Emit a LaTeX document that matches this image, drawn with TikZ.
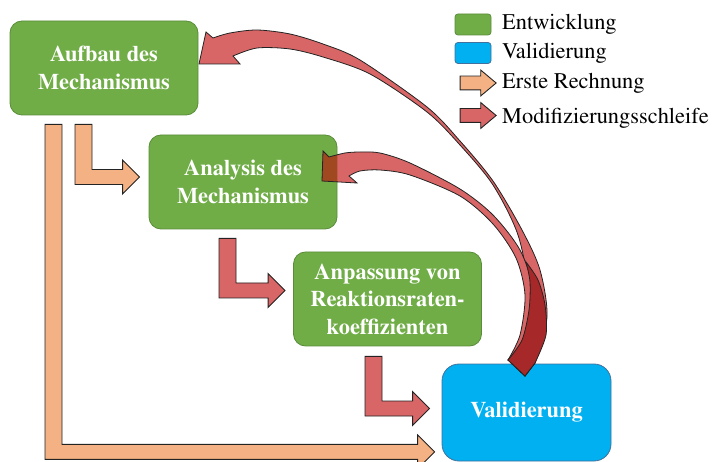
\documentclass[tikz,border=0pt]{standalone}
\usepackage[T1]{fontenc}
\usepackage{times}
\usetikzlibrary{calc,shapes.arrows}

\definecolor{gruen}{RGB}{112,173,71}
\definecolor{gruenrand}{RGB}{90,140,58}
\definecolor{blau}{RGB}{0,176,240}
\definecolor{blaurand}{RGB}{65,113,156}
\definecolor{orangepf}{RGB}{244,177,131}
\definecolor{rotpf}{RGB}{217,102,102}
\definecolor{dunkelrot}{RGB}{166,40,40}
\definecolor{braun}{RGB}{160,72,32}
\definecolor{umriss}{RGB}{35,35,35}

\tikzset{
  kasten/.style={rounded corners=12pt, fill=gruen, draw=gruenrand, line width=0.8pt,
    text=white, align=center, inner sep=0pt,
    font=\bfseries\fontsize{22.4}{27.5}\selectfont,
    minimum width=188pt, minimum height=94pt},
  legbox/.style={rounded corners=3pt, line width=0.8pt, minimum width=36pt,
    minimum height=21pt, inner sep=0pt},
  legpfeil/.style={single arrow, draw=umriss, line width=0.9pt, minimum height=36pt,
    inner xsep=0pt, inner ysep=6.5pt, text height=0pt, text depth=0pt,
    single arrow head extend=6pt, single arrow tip angle=80},
  legtext/.style={anchor=base west, inner sep=0pt, font=\fontsize{22.4}{27.5}\selectfont},
  kurvpfeil/.style={fill=rotpf, draw=umriss, line width=0.8pt}
}

% L-shaped block arrow: #1 top of the shaft, #2 tip
\newcommand{\winkelpfeil}[3]{%
  \draw[line width=0.9pt, draw=umriss, #3] let \p1=(#1), \p2=(#2) in
    (\x1-8.5pt,\y1) -- (\x1+8.5pt,\y1) -- (\x1+8.5pt,\y2+7.5pt) -- (\x2-17pt,\y2+7.5pt)
    -- (\x2-17pt,\y2+17pt) -- (\x2,\y2) -- (\x2-17pt,\y2-17pt) -- (\x2-17pt,\y2-7.5pt)
    -- (\x1-8.5pt,\y2-7.5pt) -- cycle;}

\newcommand{\kurvegross}{plot[smooth] coordinates {(508,360) (522,337) (528,290) (518,235)
    (493,185) (460,145) (427,112) (370,74) (323,57) (290,49) (257,48) (233,56)}
  -- (240,64) -- (199,64) -- (206,32) -- (213,38)
  -- plot[smooth] coordinates {(213,38) (230,33) (257,30) (290,34) (323,44) (360,60)
    (427,107) (460,141) (493,181) (522,230) (540,270) (547,317) (535,363)}
  -- (525,376) -- cycle}
\newcommand{\kurvekl}{plot[smooth] coordinates {(508,360) (520,335) (525,295) (516,258)
    (493,224) (460,196) (410,175) (380,170) (360,171) (349,176)}
  -- (357,183) -- (322,181) -- (323,151) -- (329,157)
  -- plot[smooth] coordinates {(329,157) (345,153) (360,152) (380,153) (410,163)
    (460,189) (493,215) (520,250) (534,290) (539,330) (535,363)}
  -- (525,376) -- cycle}

\begin{document}
\begin{tikzpicture}
    \pgfsetxvec{\pgfpoint{1pt}{0}}
    \pgfsetyvec{\pgfpoint{0}{-1pt}}
    \useasboundingbox (0,0) rectangle (715,462);

    \node[kasten] (aufbau) at (104,68) {Aufbau des\\Mechanismus};
    \node[kasten] (analysis) at (243,182) {Analysis des\\Mechanismus};
    \node[kasten] (anpassung) at (387.5,299) {Anpassung von\\Reaktionsraten-\\koeffizienten};
    \node[kasten, fill=blau, draw=blaurand, rounded corners=17pt,
      minimum width=169pt, minimum height=97pt] (validierung) at (526.5,412.5) {Validierung};

    \coordinate (o1a) at ($(aufbau.south)+(-20.5,9)$);
    \coordinate (o1b) at ($(analysis.west)+(-9,-5)$);
    \coordinate (o2a) at ($(aufbau.south)+(-50.5,9)$);
    \coordinate (o2b) at ($(validierung.south west)+(-7,-9.5)$);
    \coordinate (r1a) at ($(analysis.south)+(-15.5,9)$);
    \coordinate (r1b) at ($(anpassung.west)+(-8,-8.5)$);
    \coordinate (r2a) at ($(anpassung.south)+(-14,10)$);
    \coordinate (r2b) at ($(validierung.west)+(-12,-4)$);
    \foreach \s/\e/\f in {o1a/o1b/orangepf, o2a/o2b/orangepf, r1a/r1b/rotpf, r2a/r2b/rotpf} {
      \winkelpfeil{\s}{\e}{fill=\f}
    }

    \filldraw[kurvpfeil] \kurvegross;
    \fill[rotpf] \kurvekl;
    \begin{scope}
      \clip[rounded corners=12pt] (analysis.south west) rectangle (analysis.north east);
      \fill[braun] \kurvekl;
    \end{scope}
    \draw[draw=umriss, line width=0.8pt] \kurvekl;
    \filldraw[kurvpfeil, fill=dunkelrot] plot[smooth] coordinates {(508,360) (522,340) (529,310)
      (530,282) (526,262)} -- plot[smooth] coordinates {(526,262) (538,280) (545,305)
      (546,335) (535,363)} -- (525,376) -- cycle;

    \node[legbox, fill=gruen, draw=gruenrand] (leg1) at (473,24.5) {};
    \node[legbox, fill=blau, draw=blaurand] (leg2) at (473,53) {};
    \node[legpfeil, fill=orangepf] (leg3) at (474,83) {};
    \node[legpfeil, fill=rotpf] (leg4) at (474,115.5) {};
    \foreach \n/\y/\t in {1/30/Entwicklung, 2/59/Validierung, 3/89/Erste Rechnung,
      4/124/Modifizierungsschleife} {
      \node[legtext] (txt\n) at (502,\y) {\t};
    }
\end{tikzpicture}
\end{document}
